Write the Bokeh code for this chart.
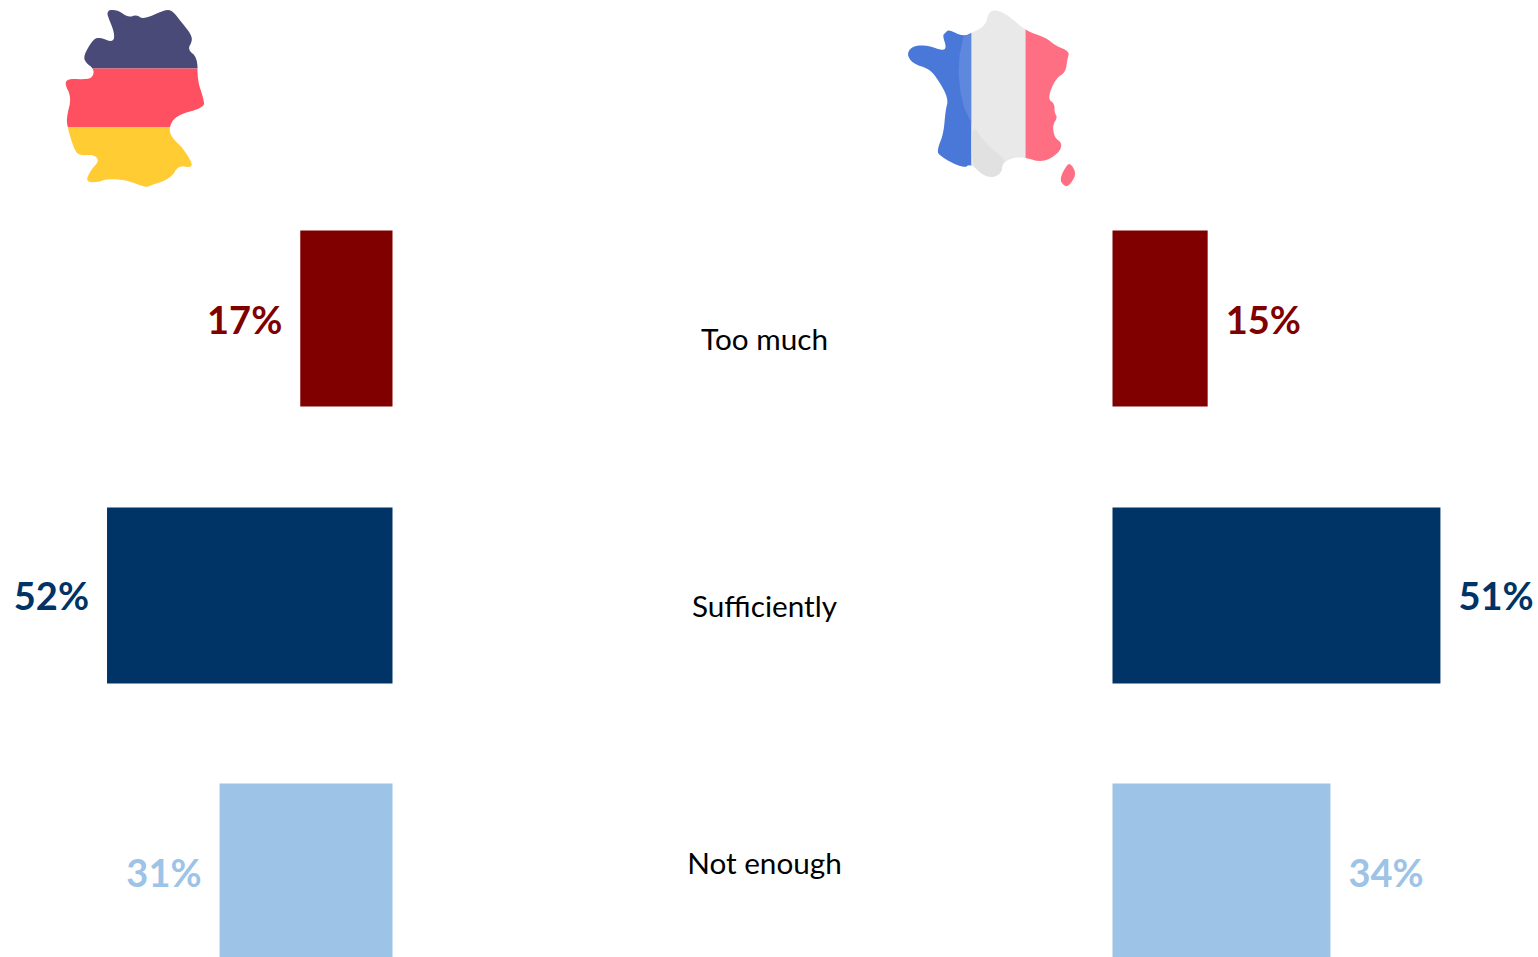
from bokeh.plotting import figure
from bokeh.models import Range1d
from bokeh.core.properties import value
from bokeh.embed import file_html
from bokeh.resources import INLINE

categories = ["Too much", "Sufficiently", "Not enough"]
germany = [17, 52, 31]
france = [15, 51, 34]
germany_bar = [16.8, 52, 31.5]
france_bar = [14.8, 51, 33.9]
colors = ["#800000", "#003366", "#9DC3E6"]
W, H = 1538, 957
row_top = [230, 507, 783]
row_h = 176
label_y = [318, 594, 871]
cat_y = [338, 605, 862]
DE0, DEK = 392, 5.49
FR0, FRK = 1112, 6.43
FONT = value("Lato")

p = figure(width=W, height=H, x_range=Range1d(0, W), y_range=Range1d(H, 0),
           output_backend="svg", toolbar_location=None,
           min_border=0, outline_line_color=None)
p.axis.visible = False
p.grid.visible = False
p.extra_x_ranges = {
    "de": Range1d(DE0 / DEK, (DE0 - W) / DEK),
    "fr": Range1d(-FR0 / FRK, (W - FR0) / FRK),
}

# bars
tops = row_top
bots = [t + row_h for t in row_top]
p.quad(left=0, right=germany_bar, top=tops, bottom=bots, fill_color=colors, line_color=None, x_range_name="de")
p.quad(left=0, right=france_bar, top=tops, bottom=bots, fill_color=colors, line_color=None, x_range_name="fr")

# value labels
p.text(x=germany_bar, y=label_y, text=[f"{v}%" for v in germany], x_range_name="de", x_offset=-18,
       text_align="right", text_baseline="middle", text_color=colors, text_font=FONT,
       text_font_style="bold", text_font_size="38px")
p.text(x=france_bar, y=label_y, text=[f"{v}%" for v in france], x_range_name="fr", x_offset=18,
       text_align="left", text_baseline="middle", text_color=colors, text_font=FONT,
       text_font_style="bold", text_font_size="38px")

# category labels
p.text(x=[764] * 3, y=cat_y, text=categories, text_align="center", text_baseline="middle",
       text_color="#000000", text_font=FONT, text_font_size="29.7px")


def chaikin(pts, n=2):
    for _ in range(n):
        out = []
        for i, (x0, y0) in enumerate(pts):
            x1, y1 = pts[(i + 1) % len(pts)]
            out.append((0.75 * x0 + 0.25 * x1, 0.75 * y0 + 0.25 * y1))
            out.append((0.25 * x0 + 0.75 * x1, 0.25 * y0 + 0.75 * y1))
        pts = out
    return pts


def clip(pts, axis, lo, hi):
    def half(poly, keep, cut):
        res = []
        for i, a in enumerate(poly):
            b = poly[(i + 1) % len(poly)]
            if keep(a):
                res.append(a)
            if keep(a) != keep(b):
                t = (cut - a[axis]) / (b[axis] - a[axis])
                res.append((a[0] + t * (b[0] - a[0]), a[1] + t * (b[1] - a[1])))
        return res
    return half(half(pts, lambda q: q[axis] >= lo, lo), lambda q: q[axis] <= hi, hi)


def fill(pts, color):
    p.patch([q[0] for q in pts], [q[1] for q in pts], fill_color=color, line_color=None)


# Germany flag-map outline (picture pixels)
de_outline = chaikin([(107,12),(109,9),(118,10),(128,17),(136,14),(143,19),(165,9),(172,10),(182,23),(190,33),(192,40),(187,49),(197,57),(197,80),(203,98),(204,107),
    (175,115),(168,128),(172,138),(182,147),(192,163),(190,167),(178,165),(170,178),(150,185),(145,187),(128,180),(107,178),(97,182),(85,181),(90,170),(99,160),(93,154),(78,155),(73,147),
    (67,127),(66,117),(71,97),(64,83),(68,78),(88,79),(93,75),(93,68),(85,62),(83,55),(93,38),(100,37),(113,42),(114,32),(107,15)])
fill(clip(de_outline, 1, 0, 68), "#4A4A78")
fill(clip(de_outline, 1, 68, 126.5), "#FF5061")
fill(clip(de_outline, 1, 126.5, 200), "#FFCC33")

# France flag-map outline (picture pixels)
fr_outline = chaikin([(945,32),(948,29),(963,36),(972,32),(985,25),(988,12),(995,9),(1008,15),(1025,30),(1045,37),(1055,45),(1069,51),(1067,58),(1065,72),(1055,78),(1047,98),(1054,103),(1054,112),(1057,117),(1052,125),(1054,137),(1062,143),(1058,153),(1042,162),(1025,157),(1012,157),(1002,163),(1001,172),(993,177),(983,175),(970,163),(963,168),(938,155),(937,148),(943,133),(945,110),(948,98),(937,78),(928,68),(912,63),(906,53),(913,45),(928,45),(942,50),(946,47),(942,35)])
fr_isle = chaikin([(1067,163),(1071,164),(1076,174),(1068,186),(1063,185),(1059,178)])
fr_shade_blue = [(963,36),(959,55),(958,73),(960,92),(964,108),(971,123),(971,33)]
fr_shade_grey = [(971,123),(985,143),(1005,159),(1002,163),(1001,172),(993,177),(983,175),(971,164)]
fill(clip(fr_outline, 0, 900, 971), "#4A78D8")
fill(fr_shade_blue, "#5E87DE")
fill(clip(fr_outline, 0, 971, 1025), "#E9E9E9")
fill(clip(chaikin(fr_shade_grey, 1), 0, 971, 1025), "#E1E1E1")
fill(clip(fr_outline, 0, 1025, 1100), "#FF6F83")
fill(fr_isle, "#FF6F83")

open("out.html", "w").write(file_html(p, INLINE))
